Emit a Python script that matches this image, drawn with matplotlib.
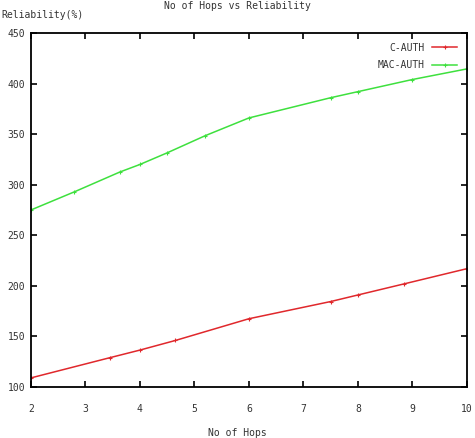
import matplotlib
matplotlib.use('Agg')
import matplotlib.pyplot as plt

# ==============================================================================
#  DATA
# ==============================================================================
hops_c = [2, 3.45, 4, 4.65, 6, 7.5, 8, 8.85, 10]
rel_c = [109, 129, 136.5, 146, 167.5, 184.5, 191, 202, 217]

hops_mac = [2, 2.8, 3.63, 4, 4.5, 5.2, 6, 7.5, 8, 9, 10]
rel_mac = [275, 293, 312.5, 320, 331.5, 348.5, 366, 386, 392, 404, 414.5]

x_ticks = [2, 3, 4, 5, 6, 7, 8, 9, 10]
y_ticks = [100, 150, 200, 250, 300, 350, 400, 450]

RED = '#e0282c'
GREEN = '#3ee03e'
FONT = 'DejaVu Sans Mono'

fig = plt.figure(figsize=(4.75, 4.38), dpi=100)
fig.patch.set_facecolor('white')
ax = fig.add_axes([0.065, 0.1164, 0.918, 0.8083])

ax.plot(hops_c, rel_c, color=RED, lw=1.1, marker='+', markersize=3,
        markeredgewidth=0.8, label='C-AUTH')
ax.plot(hops_mac, rel_mac, color=GREEN, lw=1.1, marker='+', markersize=3,
        markeredgewidth=0.8, label='MAC-AUTH')

ax.set_xlim(2, 10)
ax.set_ylim(100, 450)
ax.set_xticks(x_ticks)
ax.set_yticks(y_ticks)
ax.tick_params(direction='in', length=4, width=1.2, top=True, right=True,
               labelsize=7, colors='black', labelcolor='#333333')
ax.tick_params(axis='x', pad=12)
ax.tick_params(axis='y', pad=4)
for lbl in ax.get_xticklabels() + ax.get_yticklabels():
    lbl.set_family(FONT)
for s in ax.spines.values():
    s.set_linewidth(1.3)

leg = ax.legend(loc='upper right', frameon=False, markerfirst=False,
                prop={'family': FONT, 'size': 7}, handlelength=2.6,
                borderaxespad=0.6, labelspacing=0.8)
for t in leg.get_texts():
    t.set_color('#333333')

fig.text(0.5, 0.997, 'No of Hops vs Reliability', ha='center', va='top',
         fontsize=7, family=FONT, color='#333333')
fig.text(0.002, 0.978, 'Reliability(%)', ha='left', va='top',
         fontsize=7, family=FONT, color='#333333')
fig.text(0.5, 0.011, 'No of Hops', ha='center', va='center',
         fontsize=7, family=FONT, color='#333333')

fig.savefig('out.png', dpi=100)
